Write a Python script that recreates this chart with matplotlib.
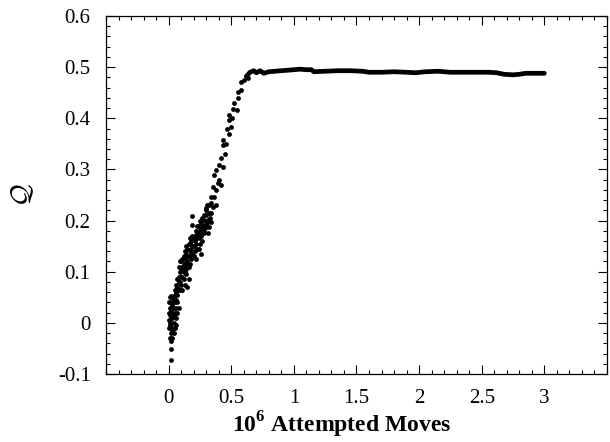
import matplotlib
matplotlib.use('Agg')
import matplotlib.pyplot as plt
from matplotlib.ticker import MultipleLocator, FixedLocator

plt.rcParams['font.family'] = ['Liberation Serif', 'DejaVu Serif']
plt.rcParams['mathtext.fontset'] = 'custom'
plt.rcParams['mathtext.bf'] = 'Liberation Serif:bold'
plt.rcParams['mathtext.rm'] = 'Liberation Serif'

# rising part (individual samples)
rise_x = [0.00, 0.01, 0.00, 0.02, 0.01, 0.03, 0.00, 0.02, 0.01, 0.03,
          0.04, 0.02, 0.04, 0.05, 0.03, 0.01, 0.05, 0.06, 0.03, 0.04,
          0.02, 0.05, 0.06, 0.07, 0.02, 0.04, 0.01, 0.03, 0.00, 0.05,
          0.06, 0.07, 0.02, 0.03, 0.01, 0.06, 0.04, 0.08, 0.03, 0.02,
          0.022, 0.02,
          0.06, 0.07, 0.08, 0.09, 0.10, 0.07, 0.08, 0.11, 0.12, 0.09,
          0.10, 0.06, 0.13, 0.11, 0.08, 0.12, 0.14, 0.10, 0.09, 0.13,
          0.15, 0.07, 0.11, 0.05, 0.12, 0.10, 0.14, 0.08, 0.16, 0.09,
          0.12, 0.13, 0.14, 0.15, 0.16, 0.17, 0.15, 0.18, 0.19, 0.20,
          0.16, 0.13, 0.14, 0.17, 0.21, 0.22, 0.18, 0.19, 0.23, 0.24,
          0.20, 0.17, 0.21, 0.25, 0.26, 0.12, 0.15, 0.18, 0.22, 0.14,
          0.11, 0.16, 0.20, 0.23, 0.19, 0.27, 0.24, 0.13, 0.17, 0.21,
          0.22, 0.23, 0.24, 0.25, 0.26, 0.27, 0.28, 0.25, 0.27, 0.29,
          0.30, 0.26, 0.28, 0.24, 0.29, 0.31, 0.23, 0.30, 0.32, 0.27,
          0.31, 0.22, 0.33, 0.28, 0.34,
          0.603, 0.63, 0.577, 0.55, 0.577, 0.55, 0.524, 0.51, 0.542, 0.484,
          0.505, 0.479, 0.497, 0.463, 0.484, 0.437, 0.437, 0.458, 0.418, 0.452,
          0.399, 0.431, 0.378, 0.365, 0.405, 0.392, 0.418, 0.352, 0.378, 0.339,
          0.365, 0.378, 0.325, 0.352, 0.299, 0.339, 0.188, 0.272, 0.312, 0.339,
          0.299, 0.188, 0.325, 0.259, 0.286, 0.233, 0.312]
rise_y = [0.040, 0.030, 0.020, 0.010, 0.000, 0.020, -0.010, -0.020, -0.030, -0.010,
          0.000, 0.040, 0.030, 0.020, 0.050, 0.050, 0.040, 0.010, -0.030, -0.020,
          0.000, -0.010, 0.030, 0.020, 0.025, 0.045, 0.015, 0.035, 0.005, 0.055,
          0.045, 0.040, -0.035, -0.015, -0.005, -0.005, 0.015, 0.030, 0.010, 0.052,
          -0.052, -0.072,
          0.060, 0.070, 0.065, 0.080, 0.075, 0.085, 0.090, 0.090, 0.085, 0.100,
          0.105, 0.075, 0.100, 0.110, 0.110, 0.115, 0.095, 0.120, 0.065, 0.075,
          0.070, 0.055, 0.065, 0.065, 0.100, 0.090, 0.115, 0.080, 0.085, 0.120,
          0.130, 0.125, 0.135, 0.120, 0.130, 0.140, 0.145, 0.125, 0.135, 0.150,
          0.155, 0.140, 0.105, 0.115, 0.140, 0.155, 0.160, 0.150, 0.145, 0.165,
          0.165, 0.165, 0.170, 0.155, 0.135, 0.110, 0.130, 0.145, 0.125, 0.150,
          0.125, 0.110, 0.130, 0.170, 0.170, 0.160, 0.145, 0.115, 0.155, 0.160,
          0.180, 0.190, 0.175, 0.185, 0.195, 0.180, 0.190, 0.200, 0.205, 0.200,
          0.210, 0.170, 0.175, 0.190, 0.185, 0.195, 0.175, 0.225, 0.215, 0.190,
          0.230, 0.165, 0.205, 0.210, 0.235,
          0.475, 0.478, 0.471, 0.452, 0.455, 0.439, 0.429, 0.419, 0.417, 0.406,
          0.400, 0.396, 0.383, 0.380, 0.370, 0.357, 0.348, 0.350, 0.322, 0.331,
          0.308, 0.305, 0.299, 0.289, 0.279, 0.273, 0.269, 0.266, 0.259, 0.246,
          0.246, 0.230, 0.230, 0.227, 0.220, 0.214, 0.209, 0.204, 0.201, 0.197,
          0.191, 0.191, 0.188, 0.185, 0.178, 0.178, 0.175]

# plateau (dense samples that merge into a thick line)
plat_x = [0.62, 0.65, 0.68, 0.70, 0.73, 0.76, 0.80, 0.85, 0.90, 0.95,
          1.00, 1.05, 1.10, 1.14, 1.16, 1.25, 1.35, 1.45, 1.55, 1.60,
          1.70, 1.80, 1.90, 1.97, 2.05, 2.15, 2.25, 2.35, 2.45, 2.55,
          2.62, 2.68, 2.75, 2.80, 2.85, 2.92, 3.00]
plat_y = [0.482, 0.490, 0.493, 0.489, 0.493, 0.488, 0.491, 0.492, 0.493, 0.494,
          0.495, 0.496, 0.495, 0.495, 0.491, 0.492, 0.493, 0.493, 0.492, 0.490,
          0.490, 0.491, 0.490, 0.489, 0.491, 0.492, 0.490, 0.490, 0.490, 0.490,
          0.489, 0.486, 0.485, 0.486, 0.488, 0.488, 0.488]

x_ticks = [0, 0.5, 1, 1.5, 2, 2.5, 3]
x_labels = ['0', '0.5', '1', '1.5', '2', '2.5', '3']
y_ticks = [-0.1, 0, 0.1, 0.2, 0.3, 0.4, 0.5, 0.6]
y_labels = ['-0.1', '0', '0.1', '0.2', '0.3', '0.4', '0.5', '0.6']

fig = plt.figure(figsize=(6.1, 4.42), dpi=100)
ax = fig.add_axes([0.1738, 0.1538, 0.8212, 0.81])

ax.scatter(rise_x, rise_y, s=12, color='k', linewidths=0)
ax.plot(plat_x, plat_y, '-', color='k', lw=3.4, solid_capstyle='round')

ax.set_xlim(-0.5, 3.5)
ax.set_ylim(-0.1, 0.6)
ax.xaxis.set_major_locator(FixedLocator(x_ticks))
ax.set_xticklabels(x_labels)
ax.xaxis.set_minor_locator(MultipleLocator(0.1))
ax.yaxis.set_major_locator(FixedLocator(y_ticks))
ax.set_yticklabels(y_labels)
ax.yaxis.set_minor_locator(MultipleLocator(0.02))

ax.tick_params(which='both', direction='in', top=True, right=True, width=0.8)
ax.tick_params(which='major', length=6.5, labelsize=15, pad=11)
ax.tick_params(which='minor', length=3)
for s in ax.spines.values():
    s.set_linewidth(0.9)

ax.set_xlabel(r'10$^{\mathbf{6}}$ Attempted Moves', fontsize=17, fontweight='bold')
ax.xaxis.set_label_coords(0.471, -0.10)
ax.set_ylabel(r'$\mathcal{Q}$', fontsize=20, math_fontfamily='cm')
ax.yaxis.set_label_coords(-0.14, 0.5)

fig.savefig('out.png', dpi=100)
